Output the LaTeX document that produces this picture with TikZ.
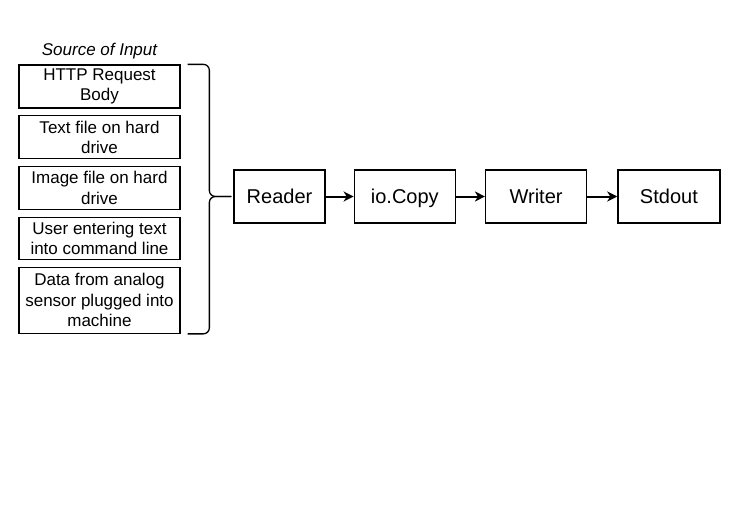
\documentclass[tikz,border=0pt]{standalone}
\usepackage{fontspec}
\setmainfont{Liberation Sans}
\usepackage{tikz}
\usetikzlibrary{positioning,calc,arrows.meta}
\tikzset{src node/.style={rectangle,draw,line width=1.3pt,minimum width=161pt,minimum height=43pt,inner sep=1pt,align=center,font=\fontsize{17}{20.5}\selectfont},
	main node/.style={rectangle,draw,line width=1.3pt,minimum height=53pt,inner sep=2pt,text height=14.3pt,text depth=0pt,font=\fontsize{20}{24}\selectfont},
	flow/.style={-{Stealth[length=10pt,width=10pt,inset=3pt]},line width=2pt},
}

\begin{document}
\begin{tikzpicture}[x=1pt,y=-1pt]
		\useasboundingbox (0,0) rectangle (745,530);
		% sources
		\node[src node] (1) at (99.5,86.5) {HTTP Request\\Body};
		\node[src node] (2) [below = 6.5pt of 1] {Text file on hard\\drive};
		\node[src node] (3) [below = 6.5pt of 2] {Image file on hard\\drive};
		\node[src node,minimum height=42pt] (4) [below = 6.5pt of 3] {User entering text\\into command line};
		\node[src node,minimum height=66pt] (5) [below = 6.5pt of 4] {Data from analog\\sensor plugged into\\machine};
		\node[font=\fontsize{17}{20}\selectfont\itshape] (0) [above = 2pt of 1] {Source of Input};
		
		% pipeline
		\node[main node,minimum width=91pt] (6) at (279.5,196.5) {Reader};
		\node[main node,minimum width=101pt] (7) [right = 28pt of 6] {io.Copy};
		\node[main node,minimum width=101pt] (8) [right = 29pt of 7] {Writer};
		\node[main node,minimum width=102pt] (9) [right = 30pt of 8] {Stdout};
		
		% brace
		\coordinate (t) at ($(6.west)+(-2,0)$);
		\draw[line width=1.3pt,rounded corners=6pt] ($(1.north east)+(7,0)$) -| ($(t)+(-22,0)$) -- (t);
		\draw[line width=1.3pt,rounded corners=6pt] ($(5.south east)+(7,0)$) -| ($(t)+(-22,0)$) -- (t);
		
		\draw[flow] (6) -- (7);
		\draw[flow] (7) -- (8);
		\draw[flow] (8) -- (9);
\end{tikzpicture}
\end{document}
